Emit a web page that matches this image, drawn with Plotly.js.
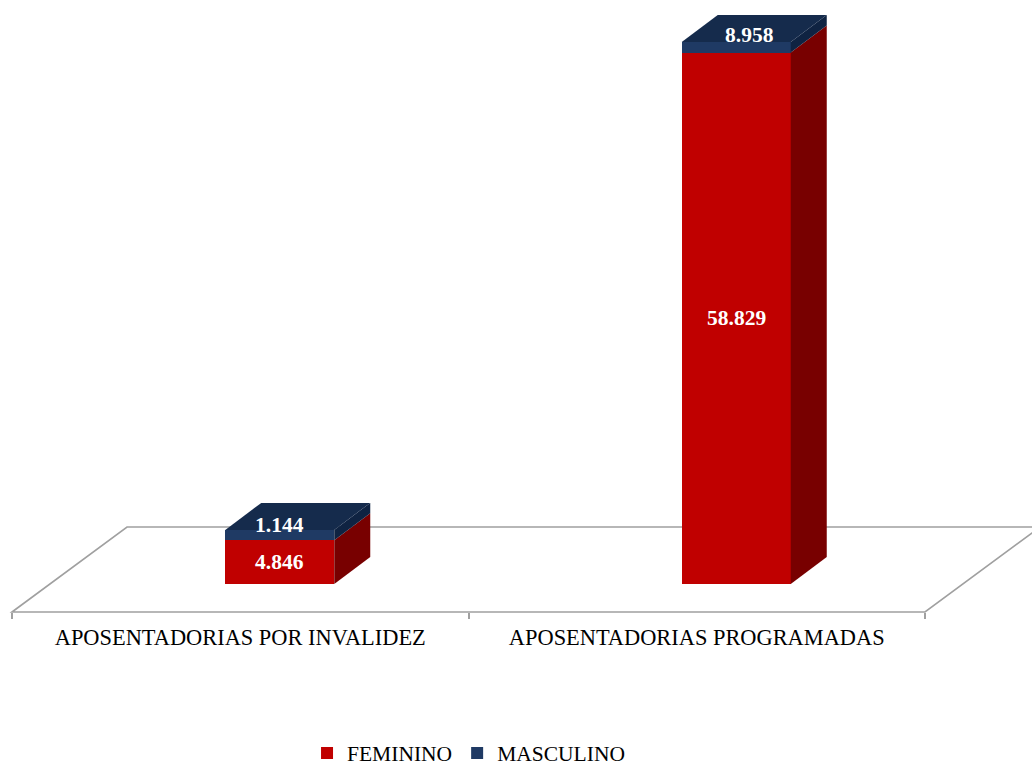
<!DOCTYPE html>
<html>
<head>
<meta charset="utf-8">
<script src="https://cdn.plot.ly/plotly-3.0.1.min.js"></script>
<style>html,body{margin:0;padding:0;background:#fff;}#chart{width:1032px;height:766px;}</style>
</head>
<body>
<div id="chart"></div>
<script>
// ---- data ----
const categories = ['APOSENTADORIAS POR INVALIDEZ', 'APOSENTADORIAS PROGRAMADAS'];
const seriesNames = ['FEMININO', 'MASCULINO'];
const feminino = [4846, 58829];
const masculino = [1144, 8958];
const axisMax = 60000;

// ---- styling / geometry ----
const W = 1032, H = 766;
const zeroPx = 584, maxPx = 42;            // pixel rows of value 0 and axisMax
const upp = axisMax / (zeroPx - maxPx);    // value units per pixel
const xL = 12, xR = 925;                   // floor front edge
const unitPx = (xR - xL) / 2;
const barW = 109 / unitPx;
const barShift = 39.5 / unitPx;            // bar sits half-way back on the floor
const barOffset = barShift - barW / 2;
const depthX = 36 / unitPx, depthY = 27 * upp;
const floorBack = {dx: 115, dy: 85};
const floorY = 612;

const colFront = ['#C00000', '#1F3A64'];
const colSide = ['#780000', '#0F2342'];
const colTop = '#152B4C';
const serif = 'Liberation Serif, Times New Roman, serif';
const mascLabelShift = [{x: 0, y: 10.5}, {x: 13.5, y: 12.5}];

const fmt = v => String(v).replace(/\B(?=(\d{3})+(?!\d))/g, '.');

// values as displayed (the value axis stops at axisMax, bars are clipped there)
const femShown = feminino.map(v => Math.min(v, axisMax));
const masShown = masculino.map((v, i) => Math.min(feminino[i] + v, axisMax) - femShown[i]);

const raw = [feminino, masculino];
const shown = [femShown, masShown];

const traces = seriesNames.map((name, s) => ({
  type: 'bar',
  name: name,
  x: categories,
  y: shown[s],
  customdata: raw[s],
  hovertemplate: '%{x}<br>' + name + ': %{customdata:,}<extra></extra>',
  width: barW,
  offset: barOffset,
  marker: {color: colFront[s], line: {width: 0}}
}));

const px2paperX = p => p / W;
const px2paperY = p => 1 - p / H;

const shapes = [];
// floor
const fp = [[xL, floorY], [xL + floorBack.dx, floorY - floorBack.dy], [xR + floorBack.dx, floorY - floorBack.dy], [xR, floorY]];
shapes.push({
  type: 'path', xref: 'paper', yref: 'paper', layer: 'below',
  path: 'M' + fp.map(p => px2paperX(p[0]) + ',' + px2paperY(p[1])).join('L') + 'Z',
  line: {color: '#A0A0A0', width: 1.6}, fillcolor: 'rgba(0,0,0,0)'
});

// 3-D side and top faces, derived from the stacked values
categories.forEach((c, i) => {
  const left = i + barOffset, right = left + barW;
  let base = 0;
  shown.forEach((vals, s) => {
    const top = base + vals[i];
    if (vals[i] > 0) {
      shapes.push({
        type: 'path', xref: 'x', yref: 'y', layer: 'above',
        path: `M${right},${base}L${right + depthX},${base + depthY}L${right + depthX},${top + depthY}L${right},${top}Z`,
        fillcolor: colSide[s], line: {width: 0}
      });
    }
    base = top;
  });
  shapes.push({
    type: 'path', xref: 'x', yref: 'y', layer: 'above',
    path: `M${left},${base}L${left + depthX},${base + depthY}L${right + depthX},${base + depthY}L${right},${base}Z`,
    fillcolor: colTop, line: {width: 0}
  });
});

const labelFont = {family: serif, size: 21.5, color: '#FFFFFF', weight: 'bold'};
const annotations = [];
categories.forEach((c, i) => {
  annotations.push({
    x: i + barShift, y: femShown[i] / 2, xref: 'x', yref: 'y',
    text: fmt(feminino[i]), showarrow: false, font: labelFont
  });
  annotations.push({
    x: i + barShift, y: femShown[i] + masShown[i] / 2, xref: 'x', yref: 'y',
    text: fmt(masculino[i]), showarrow: false, font: labelFont,
    xshift: mascLabelShift[i].x, yshift: mascLabelShift[i].y
  });
});

const layout = {
  width: W, height: H,
  margin: {l: 0, r: 0, t: 0, b: 0, autoexpand: false},
  paper_bgcolor: '#FFFFFF', plot_bgcolor: 'rgba(0,0,0,0)',
  barmode: 'stack',
  showlegend: true,
  xaxis: {
    type: 'category',
    domain: [xL / W, xR / W],
    range: [-0.5, 1.5],
    anchor: 'free', position: 1 - floorY / H,
    showline: false, showgrid: false, zeroline: false, automargin: false,
    ticks: 'outside', tickson: 'boundaries', ticklen: 6, tickcolor: '#A0A0A0', tickwidth: 1.5,
    ticklabelstandoff: 10,
    tickfont: {family: serif, size: 22.4, color: '#000000'},
    fixedrange: true
  },
  yaxis: {
    range: [-(H - zeroPx) * upp, zeroPx * upp],
    domain: [0, 1],
    visible: false, showgrid: false, zeroline: false, fixedrange: true
  },
  legend: {
    orientation: 'h', x: 0.454, xanchor: 'center', y: px2paperY(753), yanchor: 'middle',
    font: {family: serif, size: 21.5, color: '#000000'},
    bgcolor: 'rgba(0,0,0,0)', traceorder: 'normal'
  },
  shapes: shapes,
  annotations: annotations
};

Plotly.newPlot('chart', traces, layout, {displayModeBar: false, responsive: false});
</script>
</body>
</html>
